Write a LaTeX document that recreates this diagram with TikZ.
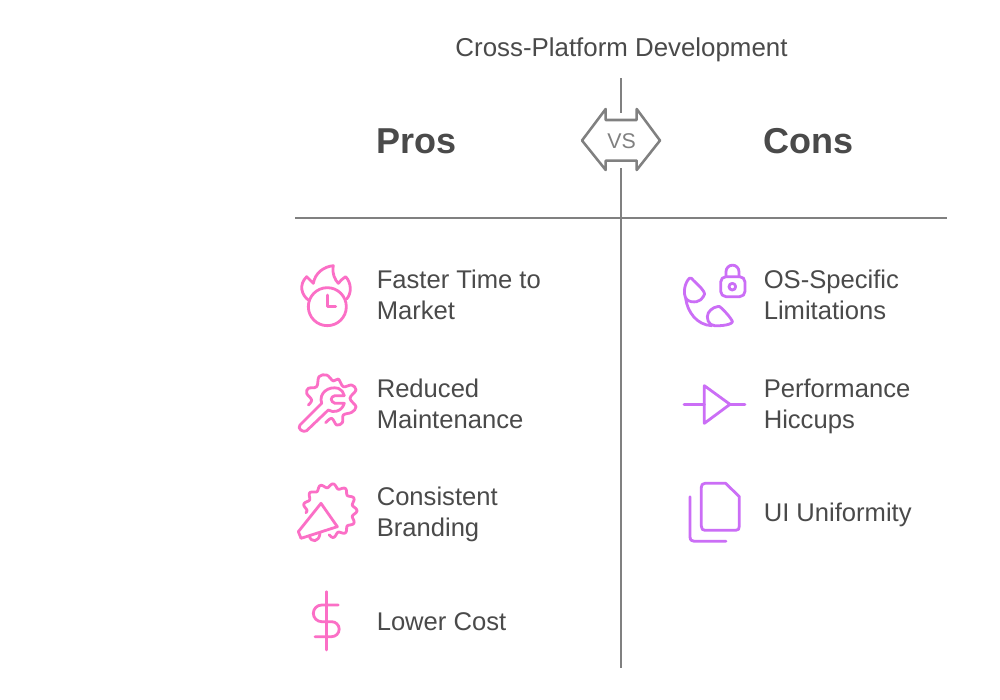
\documentclass[tikz,border=0pt]{standalone}
\usepackage{fontspec}
\setmainfont{Liberation Sans}
\usetikzlibrary{arrows}

\definecolor{textgray}{HTML}{4A4A4A}
\definecolor{linegray}{HTML}{808080}
\definecolor{propink}{HTML}{FB6FC6}
\definecolor{conpurple}{HTML}{CB6EF6}

\begin{document}
\begin{tikzpicture}[x=0.75pt,y=-0.75pt,
  item node/.style={anchor=west,inner sep=0pt,align=left,text=textgray,
    font=\fontsize{19.2pt}{23.25pt}\selectfont,
    execute at begin node=\strut,execute at end node=\strut},
  head node/.style={anchor=west,inner sep=0pt,text=textgray,
    font=\fontsize{27pt}{30pt}\selectfont\bfseries},
  spine/.style={draw=linegray,line width=1.9pt},
  pro icon/.style={draw=propink,line width=2.1pt,line cap=round,line join=round},
  con icon/.style={draw=conpurple,line width=2.1pt,line cap=round,line join=round}]

  \useasboundingbox[fill=white] (0,0) rectangle (1000,700);

  \node[anchor=center,inner sep=0pt,text=textgray,font=\fontsize{19.4pt}{22pt}\selectfont] (title) at (621.5,50) {Cross-Platform Development};
  \node[head node] (pros) at (376.5,141) {Pros};
  \node[head node] (cons) at (763.5,141) {Cons};
  \node[inner sep=0pt,text=linegray,font=\fontsize{16pt}{18pt}\selectfont] (vs) at (621.5,141) {VS};

  \node[item node] (faster) at (376.5,299.7) {Faster Time to\\Market};
  \node[item node] (reduced) at (376.5,408.2) {Reduced\\Maintenance};
  \node[item node] (branding) at (376.5,516.7) {Consistent\\Branding};
  \node[item node] (lower) at (376.5,624) {Lower Cost};
  \node[item node] (limits) at (763.5,299.7) {OS-Specific\\Limitations};
  \node[item node] (hiccups) at (763.5,408.2) {Performance\\Hiccups};
  \node[item node] (uniform) at (763.5,515) {UI Uniformity};

  \coordinate (top a) at (621,78);
  \coordinate (top b) at (621,113);
  \coordinate (mid a) at (621,168);
  \coordinate (mid b) at (621,668);
  \coordinate (rule a) at (295,218);
  \coordinate (rule b) at (947,218);

  \path[spine]
    (top a) edge (top b)
    (mid a) edge (mid b)
    (rule a) edge (rule b);

  % vs badge
  \draw[spine,line join=round] (582,140.5) -- (605.7,109) -- (605.7,120) -- (636.7,120) -- (636.7,109)
    -- (660,140.5) -- (636.7,170) -- (636.7,160.7) -- (605.7,160.7) -- (605.7,170) -- cycle;

  % pros icons
  \begin{scope}[shift={(285,255)},scale=1/3]
    \draw[pro icon] (127,155) circle (57);
    \draw[pro icon] (127,120) -- (127,155) -- (152,155);
    \draw[pro icon] (70,135) .. controls (50,120) and (40,90) .. (65,65)
      .. controls (72,72) and (80,80) .. (85,85)
      .. controls (90,55) and (115,35) .. (145,32)
      .. controls (140,55) and (150,75) .. (160,85)
      .. controls (165,78) and (172,72) .. (182,65)
      .. controls (200,85) and (200,115) .. (185,132);
    \draw[pro icon] plot[smooth,tension=.6] coordinates {(122,503) (140,490) (155,510) (172,503) (175,480) (200,472) (213,455) (195,430) (213,405) (200,390) (175,395) (160,372) (145,378) (125,360) (102,365) (95,395) (70,400) (65,415) (80,435) (70,450)};
    \draw[pro icon] (178,422) -- (150,422) .. controls (135,425) and (135,440) .. (150,445) -- (178,445)
      .. controls (170,470) and (145,475) .. (130,465) -- (65,527)
      .. controls (55,535) and (35,520) .. (45,510) -- (110,445)
      .. controls (100,415) and (130,392) .. (160,400) .. controls (170,403) and (175,412) .. (178,422);
  \end{scope}

  \begin{scope}[shift={(285,470)},scale=1/3]
    \draw[pro icon] plot[smooth,domain=175:452,samples=110] ({135+(75+6*cos(13*\x))*cos(\x)},{122+(75+6*cos(13*\x))*sin(\x)});
    \draw[pro icon] (40,185) -- (108,100) -- (157,170) -- (48,205) -- cycle;
    \draw[pro icon] (73,198) .. controls (78,218) and (102,218) .. (105,190);
    \draw[pro icon] (125,365) -- (125,540);
    \draw[pro icon] (160,405) -- (110,405) arc (270:90:25) -- (140,455) arc (-90:90:22.5) -- (90,500);
  \end{scope}

  % cons icons
  \begin{scope}[shift={(670,255)},scale=1/3]
    \draw[con icon,rounded corners=4pt] (152,65) rectangle (225,125);
    \draw[con icon] (168,65) -- (168,50) arc (180:360:19.5) -- (207,65);
    \draw[con icon] (187,95) circle (10);
    \draw[con icon] (47,130) .. controls (52,170) and (80,210) .. (125,212);
    \draw[con icon] plot[smooth cycle,tension=.7] coordinates {(58,70) (72,78) (100,108) (100,125) (80,140) (50,133) (44,100)};
    \draw[con icon] plot[smooth cycle,tension=.7] coordinates {(142,155) (155,160) (183,192) (183,205) (150,212) (122,208) (112,185) (122,165)};
    \draw[con icon] (103,392) -- (180,448) -- (103,505) -- cycle;
    \draw[con icon] (42,448) -- (103,448);
    \draw[con icon] (180,448) -- (225,448);
    \draw[con icon] (167,685) -- (105,685) .. controls (97,685) and (94,690) .. (94,697) -- (94,813)
      .. controls (94,822) and (98,826) .. (105,826) -- (197,826)
      .. controls (205,826) and (208,822) .. (208,813) -- (208,725) -- cycle;
    \draw[con icon] (60,725) -- (60,845) .. controls (60,855) and (65,859) .. (73,859) -- (168,859);
  \end{scope}

\end{tikzpicture}
\end{document}
